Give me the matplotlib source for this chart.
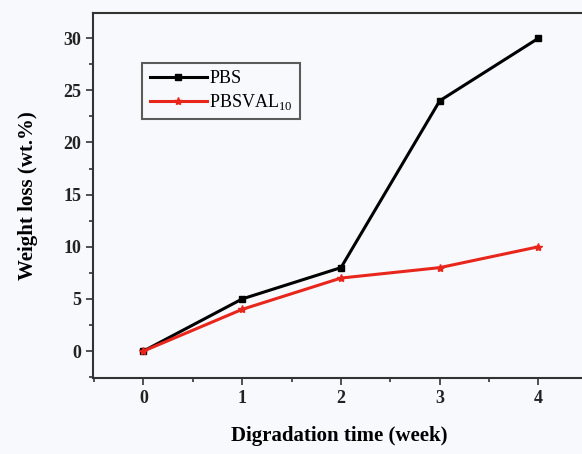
import matplotlib
matplotlib.use("Agg")
import matplotlib.pyplot as plt
from matplotlib.ticker import MultipleLocator

weeks = [0, 1, 2, 3, 4]
pbs = [0, 5, 8, 24, 30]
pbsval = [0, 4, 7, 8, 10]

plt.rcParams['font.family'] = ['Liberation Serif', 'DejaVu Serif']
plt.rcParams['mathtext.fontset'] = 'custom'
plt.rcParams['mathtext.rm'] = 'Liberation Serif'

fig = plt.figure(figsize=(5.82, 4.54), dpi=100, facecolor='#f8f9fc')
ax = fig.add_axes([0.160, 0.167, 0.845, 0.804], facecolor='#f8f9fc')

ax.plot(weeks, pbs, color='black', lw=2.2, marker='s', ms=4, label='PBS')
ax.plot(weeks, pbsval, color='#e8261c', lw=2.2, marker='*', ms=6,
        label='PBSVAL$_{\\mathregular{10}}$')

ax.set_xlim(-0.51, 4.47)
ax.set_ylim(-2.6, 32.4)
ax.xaxis.set_major_locator(MultipleLocator(1))
ax.xaxis.set_minor_locator(MultipleLocator(0.5))
ax.yaxis.set_major_locator(MultipleLocator(5))
ax.yaxis.set_minor_locator(MultipleLocator(2.5))
ax.tick_params(which='major', direction='out', length=5, width=1.2,
               labelsize=13, colors='#333333', labelcolor='#222222')
ax.tick_params(which='minor', direction='out', length=3, width=1.2,
               colors='#333333')
for lab in ax.get_xticklabels() + ax.get_yticklabels():
    lab.set_fontweight('bold')

for s in ['left', 'bottom', 'top']:
    ax.spines[s].set_linewidth(1.5)
    ax.spines[s].set_color('#333333')
ax.spines['right'].set_visible(False)

ax.set_xlabel('Digradation time (week)', fontsize=15, fontweight='bold',
              labelpad=14)
ax.set_ylabel('Weight loss (wt.%)', fontsize=15, fontweight='bold',
              labelpad=18)

leg = ax.legend(loc='upper left', bbox_to_anchor=(0.10, 0.863), fontsize=13,
                frameon=True, fancybox=False, edgecolor='#333333',
                facecolor='#f8f9fc', handlelength=3.2, handletextpad=0.1,
                borderpad=0.4, labelspacing=0.25, borderaxespad=0)
leg.get_frame().set_linewidth(1.5)

fig.savefig('out.png', dpi=100, facecolor=fig.get_facecolor())
